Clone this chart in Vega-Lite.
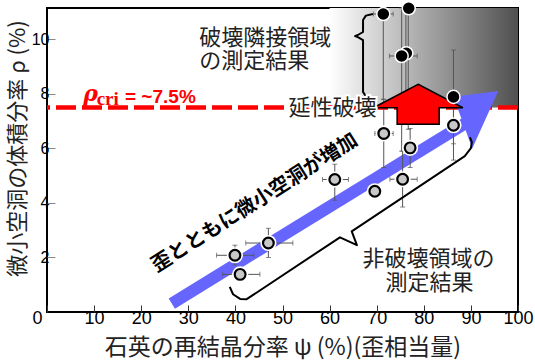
{
  "$schema": "https://vega.github.io/schema/vega-lite/v6.json",
  "width": 471,
  "height": 304,
  "autosize": "none",
  "padding": {"left": 47, "top": 8, "right": 17, "bottom": 48},
  "background": "white",
  "config": {
    "view": {"stroke": "black", "strokeWidth": 2},
    "axis": {"grid": false, "domain": false}
  },
  "layer": [
    {
      "data": {"values": [{"x": 60, "x2": 100, "y": 7.5, "y2": 11.15}]},
      "mark": {"type": "rect", "fill": {"gradient": "linear", "x1": 0, "y1": 0, "x2": 1, "y2": 0, "stops": [{"offset": 0, "color": "#ffffff"}, {"offset": 1, "color": "#505050"}]}},
      "encoding": {
        "x": {"field": "x", "type": "quantitative", "scale": {"domain": [0, 100], "nice": false, "zero": false},
          "title": "石英の再結晶分率 ψ (%)(歪相当量)",
          "axis": {"values": [0, 10, 20, 30, 40, 50, 60, 70, 80, 90, 100], "tickSize": -7, "tickColor": "#333333", "labelFont": "Liberation Sans", "labelFontSize": 18, "labelColor": "black", "labelPadding": 4, "labelFlush": false, "labelOverlap": false, "labelBound": false,
            "labelOffset": {"condition": {"test": "datum.value == 0", "value": -10}, "value": 0},
            "titleFont": "Noto Sans CJK JP", "titleFontSize": 23, "titleFontWeight": "normal", "titleColor": "#222222", "titleY": 35, "titleBaseline": "middle"}},
        "x2": {"field": "x2"},
        "y": {"field": "y", "type": "quantitative", "scale": {"domain": [0, 11.15], "nice": false, "zero": false},
          "title": "微小空洞の体積分率 ρ (%)",
          "axis": {"values": [2, 4, 6, 8, 10], "tickSize": -8, "tickColor": "#888888", "labelFont": "Liberation Sans", "labelFontSize": 16, "labelColor": "black", "labelPadding": 6,
            "titleFont": "Noto Sans CJK JP", "titleFontSize": 22, "titleFontWeight": "normal", "titleColor": "#222222", "titleX": -30, "titleY": 140, "titleAngle": 270, "titleAlign": "center", "titleBaseline": "middle"}},
        "y2": {"field": "y2"}
      }
    },
    {
      "data": {"values": [{"y": 7.5}]},
      "mark": {"type": "rule", "color": "#ff0000", "strokeWidth": 4.5, "strokeDash": [20, 6]},
      "encoding": {"y": {"field": "y", "type": "quantitative"}}
    },
    {
      "data": {"values": [{"x": 26.5, "y": 0.31, "x2": 90.0, "y2": 7.05}]},
      "mark": {"type": "rule", "color": "#6666ff", "strokeWidth": 12, "strokeCap": "butt"},
      "encoding": {"x": {"field": "x", "type": "quantitative"}, "y": {"field": "y", "type": "quantitative"}, "x2": {"field": "x2"}, "y2": {"field": "y2"}}
    },
    {
      "data": {"values": [{"x": 91.05, "y": 7.05}]},
      "mark": {"type": "point", "shape": "M-0.779,-0.803L0.779,-1L-0.125,1Z", "size": 3300, "filled": true, "color": "#6666ff", "opacity": 1},
      "encoding": {"x": {"field": "x", "type": "quantitative"}, "y": {"field": "y", "type": "quantitative"}}
    },
    {
      "data": {"values": [
        {"y": 2.08, "lo": 36.0, "hi": 43.9},
        {"y": 1.38, "lo": 37.3, "hi": 45.2},
        {"y": 2.53, "lo": 42.2, "hi": 52.2},
        {"y": 4.86, "lo": 58.5, "hi": 64.0},
        {"y": 4.43, "lo": 68.6, "hi": 70.8},
        {"y": 6.55, "lo": 69.6, "hi": 73.5},
        {"y": 4.87, "lo": 72.8, "hi": 78.6},
        {"y": 10.93, "lo": 69.3, "hi": 73.5},
        {"y": 9.39, "lo": 72.7, "hi": 78.6}
      ]},
      "mark": {"type": "errorbar", "ticks": {"size": 5, "color": "#555555"}, "rule": {"color": "#555555", "strokeWidth": 1}},
      "encoding": {"x": {"field": "lo", "type": "quantitative", "title": "石英の再結晶分率 ψ (%)(歪相当量)"}, "x2": {"field": "hi"}, "y": {"field": "y", "type": "quantitative", "title": "微小空洞の体積分率 ρ (%)"}}
    },
    {
      "data": {"values": [
        {"x": 39.9, "lo": 1.72, "hi": 2.45},
        {"x": 47.0, "lo": 2.0, "hi": 3.07},
        {"x": 61.1, "lo": 4.10, "hi": 5.42},
        {"x": 69.6, "lo": 4.16, "hi": 4.69},
        {"x": 71.5, "lo": 5.30, "hi": 7.8},
        {"x": 75.5, "lo": 3.85, "hi": 5.9},
        {"x": 77.1, "lo": 5.3, "hi": 6.73},
        {"x": 86.3, "lo": 5.57, "hi": 8.13},
        {"x": 71.4, "lo": 7.8, "hi": 11.15},
        {"x": 76.7, "lo": 6.7, "hi": 11.15},
        {"x": 75.3, "lo": 5.9, "hi": 11.15},
        {"x": 76.2, "lo": 7.0, "hi": 11.15},
        {"x": 86.3, "lo": 6.17, "hi": 9.61}
      ]},
      "mark": {"type": "errorbar", "ticks": {"size": 5, "color": "#555555"}, "rule": {"color": "#555555", "strokeWidth": 1}},
      "encoding": {"y": {"field": "lo", "type": "quantitative", "title": "微小空洞の体積分率 ρ (%)"}, "y2": {"field": "hi"}, "x": {"field": "x", "type": "quantitative", "title": "石英の再結晶分率 ψ (%)(歪相当量)"}}
    },
    {
      "data": {"values": [{"x": 78.8, "y": 7.62}]},
      "mark": {"type": "point", "shape": "M0,-0.447L1,0.079L0.47,0.079L0.47,0.447L-0.47,0.447L-0.47,0.079L-1,0.079Z", "size": 8000, "filled": true, "fill": "#ff0000", "stroke": "black", "strokeWidth": 1.5, "opacity": 1, "strokeJoin": "miter"},
      "encoding": {"x": {"field": "x", "type": "quantitative"}, "y": {"field": "y", "type": "quantitative"}}
    },
    {
      "data": {"values": [
        {"b": 1, "i": 1, "x": 69.2, "y": 10.93},
        {"b": 1, "i": 2, "x": 67.7, "y": 10.87},
        {"b": 1, "i": 3, "x": 67.1, "y": 10.71},
        {"b": 1, "i": 4, "x": 67.1, "y": 10.27},
        {"b": 1, "i": 5, "x": 66.0, "y": 10.16},
        {"b": 1, "i": 6, "x": 65.4, "y": 10.12},
        {"b": 1, "i": 7, "x": 66.0, "y": 10.08},
        {"b": 1, "i": 8, "x": 67.1, "y": 9.97},
        {"b": 1, "i": 9, "x": 67.1, "y": 8.07},
        {"b": 1, "i": 10, "x": 67.7, "y": 7.92},
        {"b": 1, "i": 11, "x": 69.2, "y": 7.88},
        {"b": 2, "i": 1, "x": 38.8, "y": 0.92},
        {"b": 2, "i": 2, "x": 39.5, "y": 0.65},
        {"b": 2, "i": 3, "x": 41.0, "y": 0.48},
        {"b": 2, "i": 4, "x": 42.4, "y": 0.47},
        {"b": 2, "i": 5, "x": 62.2, "y": 2.74},
        {"b": 2, "i": 6, "x": 65.8, "y": 2.45},
        {"b": 2, "i": 7, "x": 64.7, "y": 2.96},
        {"b": 2, "i": 8, "x": 88.7, "y": 5.72},
        {"b": 2, "i": 9, "x": 90.0, "y": 6.01},
        {"b": 2, "i": 10, "x": 90.2, "y": 6.23},
        {"b": 2, "i": 11, "x": 89.8, "y": 6.41}
      ]},
      "mark": {"type": "line", "color": "black", "strokeWidth": 2, "strokeJoin": "round"},
      "encoding": {"x": {"field": "x", "type": "quantitative"}, "y": {"field": "y", "type": "quantitative"}, "detail": {"field": "b"}, "order": {"field": "i"}}
    },
    {
      "data": {"values": [{"x": 32.3, "y": 10.06, "t": "破壊隣接領域"}, {"x": 32.3, "y": 9.2, "t": "の測定結果"}]},
      "mark": {"type": "text", "font": "Noto Sans CJK JP", "fontSize": 22, "align": "left", "baseline": "middle", "color": "#222222"},
      "encoding": {"x": {"field": "x", "type": "quantitative"}, "y": {"field": "y", "type": "quantitative"}, "text": {"field": "t"}}
    },
    {
      "data": {"values": [{"x": 81.0, "y": 1.94, "t": "非破壊領域の"}, {"x": 81.2, "y": 1.08, "t": "測定結果"}]},
      "mark": {"type": "text", "font": "Noto Sans CJK JP", "fontSize": 22, "align": "center", "baseline": "middle", "color": "#222222"},
      "encoding": {"x": {"field": "x", "type": "quantitative"}, "y": {"field": "y", "type": "quantitative"}, "text": {"field": "t"}}
    },
    {
      "data": {"values": [{"x": 60.6, "y": 7.47, "t": "延性破壊"}]},
      "mark": {"type": "text", "font": "Noto Sans CJK JP", "fontSize": 22, "align": "center", "baseline": "middle", "color": "white", "stroke": "white", "strokeWidth": 4},
      "encoding": {"x": {"field": "x", "type": "quantitative"}, "y": {"field": "y", "type": "quantitative"}, "text": {"field": "t"}}
    },
    {
      "data": {"values": [{"x": 60.6, "y": 7.47, "t": "延性破壊"}]},
      "mark": {"type": "text", "font": "Noto Sans CJK JP", "fontSize": 22, "align": "center", "baseline": "middle", "color": "#222222"},
      "encoding": {"x": {"field": "x", "type": "quantitative"}, "y": {"field": "y", "type": "quantitative"}, "text": {"field": "t"}}
    },
    {
      "data": {"values": [{"x": 44.1, "y": 4.0, "t": "歪とともに微小空洞が増加"}]},
      "mark": {"type": "text", "font": "Noto Sans CJK JP", "fontSize": 20, "fontWeight": "bold", "align": "center", "baseline": "middle", "angle": 327.5, "color": "black"},
      "encoding": {"x": {"field": "x", "type": "quantitative"}, "y": {"field": "y", "type": "quantitative"}, "text": {"field": "t"}}
    },
    {
      "data": {"values": [{"x": 7.7, "y": 7.73, "t": "ρ"}]},
      "mark": {"type": "text", "font": "DejaVu Serif", "fontSize": 22, "fontStyle": "italic", "fontWeight": "bold", "align": "left", "baseline": "alphabetic", "color": "#ff0000"},
      "encoding": {"x": {"field": "x", "type": "quantitative"}, "y": {"field": "y", "type": "quantitative"}, "text": {"field": "t"}}
    },
    {
      "data": {"values": [{"x": 10.55, "y": 7.59, "t": "cri"}]},
      "mark": {"type": "text", "font": "Liberation Serif", "fontSize": 19, "fontWeight": "bold", "align": "left", "baseline": "alphabetic", "color": "#ff0000"},
      "encoding": {"x": {"field": "x", "type": "quantitative"}, "y": {"field": "y", "type": "quantitative"}, "text": {"field": "t"}}
    },
    {
      "data": {"values": [{"x": 16.56, "y": 7.65, "t": "= ~7.5%"}]},
      "mark": {"type": "text", "font": "Liberation Sans", "fontSize": 19, "fontWeight": "bold", "align": "left", "baseline": "alphabetic", "color": "#ff0000"},
      "encoding": {"x": {"field": "x", "type": "quantitative"}, "y": {"field": "y", "type": "quantitative"}, "text": {"field": "t"}}
    },
    {
      "data": {"values": [
        {"x": 39.9, "y": 2.08}, {"x": 41.0, "y": 1.38}, {"x": 47.0, "y": 2.53},
        {"x": 61.1, "y": 4.86}, {"x": 69.6, "y": 4.43}, {"x": 71.5, "y": 6.55},
        {"x": 75.5, "y": 4.87}, {"x": 77.1, "y": 6.02}, {"x": 86.3, "y": 6.85}
      ]},
      "layer": [
        {"mark": {"type": "circle", "size": 260, "color": "white", "opacity": 1}},
        {"mark": {"type": "circle", "size": 115, "fill": "#c8c8c8", "stroke": "black", "strokeWidth": 2.2, "opacity": 1}}
      ],
      "encoding": {"x": {"field": "x", "type": "quantitative"}, "y": {"field": "y", "type": "quantitative"}}
    },
    {
      "data": {"values": [
        {"x": 71.4, "y": 10.93}, {"x": 76.8, "y": 11.14}, {"x": 76.3, "y": 9.49},
        {"x": 75.3, "y": 9.39}, {"x": 86.3, "y": 7.89}
      ]},
      "mark": {"type": "circle", "size": 170, "fill": "black", "stroke": "white", "strokeWidth": 1.5, "opacity": 1},
      "encoding": {"x": {"field": "x", "type": "quantitative"}, "y": {"field": "y", "type": "quantitative"}}
    }
  ]
}
